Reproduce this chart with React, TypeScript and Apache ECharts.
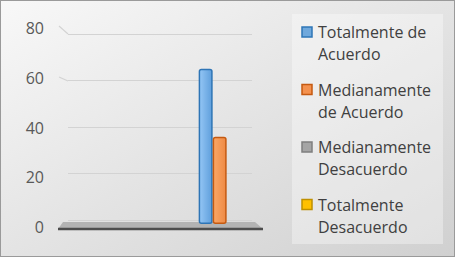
import React, { useEffect, useRef } from "react";
import * as echarts from "echarts";

const categories = ["1", "2", "3"];
const seriesNames = [
  "Totalmente de\nAcuerdo",
  "Medianamente\nde Acuerdo",
  "Medianamente\nDesacuerdo",
  "Totalmente\nDesacuerdo",
];
const totalAcuerdo = [0, 0, 64];
const medAcuerdo = [0, 0, 36];
const medDesacuerdo = [0, 0, 0];
const totalDesacuerdo = [0, 0, 0];
const yTicks = [0, 20, 40, 60, 80];

const fills = [
  ["#94c6f5", "#5f9fdc"],
  ["#fba766", "#ee8a45"],
  ["#bdbdbd", "#9a9a9a"],
  ["#ffd54a", "#f5b800"],
];
const iconFills = ["#6fa8dc", "#f4914e", "#a5a5a5", "#ffc000"];
const borders = ["#2e75b6", "#c55a11", "#7f7f7f", "#bf9000"];

export default function App() {
  const ref = useRef<HTMLDivElement>(null);
  useEffect(() => {
    if (!ref.current) return;
    const chart = echarts.init(ref.current, null, { renderer: "svg" });
    const values = [totalAcuerdo, medAcuerdo, medDesacuerdo, totalDesacuerdo];
    const font = "'Open Sans', sans-serif";
    const yMin = yTicks[0];
    const yMax = yTicks[yTicks.length - 1];
    const yInt = yTicks[1] - yTicks[0];

    const legendItems: any[] = [];
    seriesNames.forEach((name, i) => {
      const cy = 31 + 57.5 * i;
      legendItems.push({
        type: "rect",
        z: 5,
        shape: { x: 301, y: cy - 5, width: 10, height: 10 },
        style: { fill: iconFills[i], stroke: borders[i], lineWidth: 1.5 },
        silent: true,
      });
      legendItems.push({
        type: "text",
        z: 5,
        x: 317,
        y: cy - 11,
        style: {
          text: name,
          fill: "#404040",
          font: "16px 'Open Sans', sans-serif",
          lineHeight: 22,
          verticalAlign: "top",
          align: "left",
        },
        silent: true,
      });
    });

    chart.setOption({
      animation: false,
      backgroundColor: {
        type: "linear",
        x: 0,
        y: 0,
        x2: 1,
        y2: 1,
        colorStops: [
          { offset: 0, color: "#f8f8f8" },
          { offset: 1, color: "#d0d0d0" },
        ],
      },
      grid: [
        { left: 67, right: 202, top: 33, bottom: 36 },
        { left: 48, right: 202, top: 27, bottom: 29 },
        { left: 64, right: 195, top: 29, bottom: 32 },
      ],
      xAxis: [0, 1, 2].map((i) => ({
        type: "category",
        gridIndex: i,
        data: categories,
        show: false,
      })),
      yAxis: [
        {
          gridIndex: 0,
          type: "value",
          min: yMin,
          max: yMax,
          interval: yInt,
          axisLabel: { show: false },
          axisLine: { show: false },
          axisTick: { show: false },
          splitLine: { lineStyle: { color: "#d3d3d3", width: 1.2 } },
        },
        {
          gridIndex: 1,
          type: "value",
          min: yMin,
          max: yMax,
          interval: yInt,
          axisLabel: { color: "#595959", fontSize: 16, fontFamily: font, margin: 5 },
          axisLine: { show: false },
          axisTick: { show: false },
          splitLine: { show: false },
        },
        {
          gridIndex: 2,
          type: "value",
          min: yMin,
          max: yMax,
          interval: yInt,
          show: false,
          splitLine: { show: false },
        },
      ],
      graphic: [
        {
          type: "rect",
          z: 0,
          shape: { x: 291, y: 13, width: 151, height: 230 },
          style: { fill: "rgba(255,255,255,0.35)" },
          silent: true,
        },
        {
          type: "polygon",
          z: 1,
          shape: { points: [[62, 221], [254, 221], [262, 228], [57, 228]] },
          style: { fill: "#b3b3b3" },
          silent: true,
        },
        {
          type: "line",
          z: 1,
          shape: { x1: 57, y1: 228, x2: 262, y2: 228 },
          style: { stroke: "#4d4d4d", lineWidth: 2.5 },
          silent: true,
        },
        {
          type: "line",
          z: 1,
          shape: { x1: 58, y1: 25, x2: 67, y2: 33 },
          style: { stroke: "#d3d3d3", lineWidth: 1.2 },
          silent: true,
        },
        {
          type: "line",
          z: 1,
          shape: { x1: 58, y1: 76, x2: 67, y2: 80 },
          style: { stroke: "#d3d3d3", lineWidth: 1.2 },
          silent: true,
        },
        ...legendItems,
      ],
      series: seriesNames.map((name, i) => ({
        name,
        type: "bar",
        xAxisIndex: 2,
        yAxisIndex: 2,
        barWidth: 14,
        barGap: "0%",
        z: 3,
        data: values[i].map((v) => (v === 0 ? "-" : v)),
        itemStyle: {
          color: {
            type: "linear",
            x: 0,
            y: 0,
            x2: 1,
            y2: 0,
            colorStops: [
              { offset: 0, color: fills[i][0] },
              { offset: 1, color: fills[i][1] },
            ],
          },
          borderColor: borders[i],
          borderWidth: 1.5,
          borderRadius: 2,
        },
      })),
    });
    return () => chart.dispose();
  }, []);
  return (
    <div
      ref={ref}
      style={{
        position: "fixed",
        left: 0,
        top: 0,
        width: 455,
        height: 257,
        boxSizing: "border-box",
        border: "1px solid #9a9a9a",
      }}
    />
  );
}
